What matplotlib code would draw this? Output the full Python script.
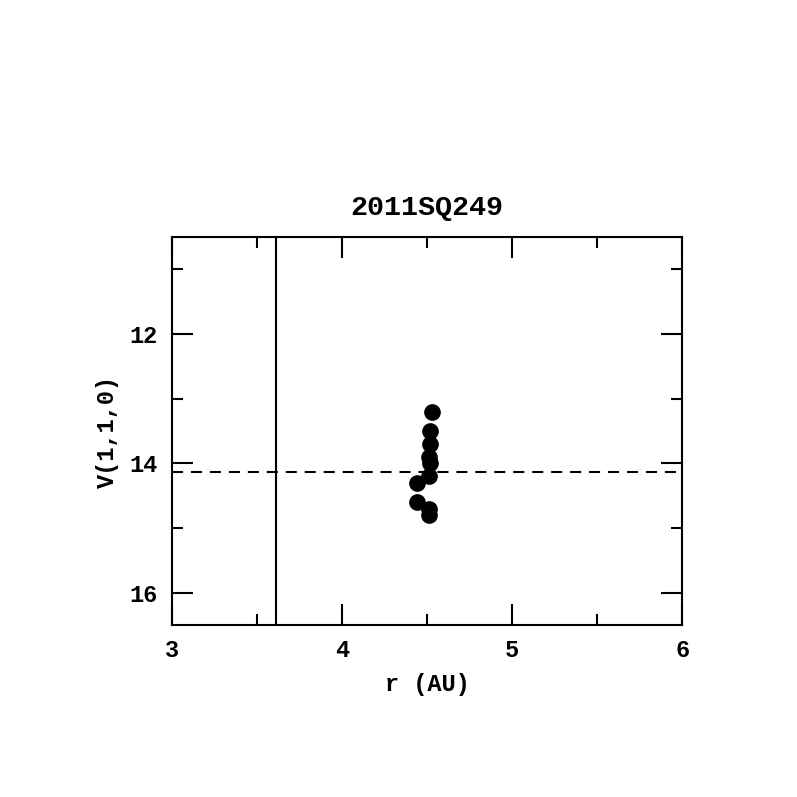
import numpy as np
import matplotlib
matplotlib.use("Agg")
import matplotlib.pyplot as plt
from matplotlib.ticker import MultipleLocator

# heliocentric distance (AU) and reduced magnitude V(1,1,0)
r_au = [4.53, 4.52, 4.52, 4.51, 4.52, 4.51, 4.44, 4.44, 4.51, 4.51]
v110 = [13.2, 13.5, 13.7, 13.9, 14.0, 14.2, 14.3, 14.6, 14.7, 14.8]
v_mean = 14.14
r_limit = 3.61
title = "2011SQ249"

plt.rcParams['font.family'] = ['Liberation Mono', 'DejaVu Sans Mono']
plt.rcParams['font.weight'] = 'bold'
plt.rcParams['axes.labelweight'] = 'bold'
plt.rcParams['axes.titleweight'] = 'bold'
plt.rcParams['font.size'] = 17

fig = plt.figure(figsize=(7.97, 7.97), dpi=100)
ax = fig.add_axes([0.2158, 0.2158, 0.64, 0.4868])

ax.plot(r_au, v110, 'o', color='black', markersize=11)
ax.axhline(v_mean, color='black', linestyle=(0, (5.3, 3.8)), linewidth=1.5)
ax.axvline(r_limit, color='black', linewidth=1.5)

ax.set_xlim(3, 6)
ax.set_ylim(16.5, 10.5)
ax.xaxis.set_major_locator(MultipleLocator(1))
ax.xaxis.set_minor_locator(MultipleLocator(0.5))
ax.yaxis.set_major_locator(MultipleLocator(2))
ax.yaxis.set_minor_locator(MultipleLocator(1))
ax.tick_params(which='both', direction='in', top=True, right=True, width=1.5)
ax.tick_params(which='major', length=15, pad=10)
ax.tick_params(which='minor', length=8)
for s in ax.spines.values():
    s.set_linewidth(1.5)

ax.set_xlabel('r (AU)', labelpad=8)
ax.set_ylabel('V(1,1,0)', labelpad=8)
ax.set_title(title, pad=16)

fig.savefig('out.png', dpi=100)
